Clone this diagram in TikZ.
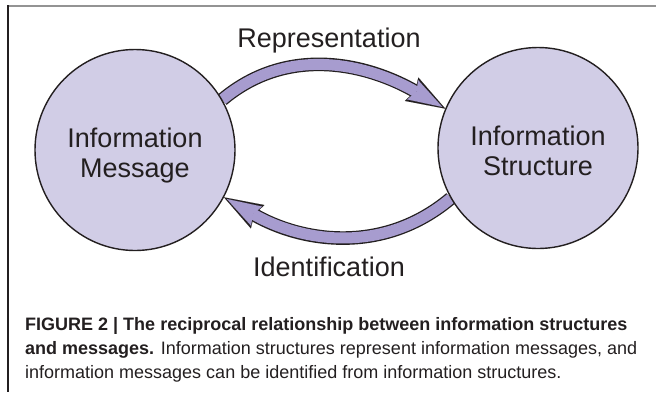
\documentclass[tikz,border=0pt]{standalone}
\usepackage{fontspec}
\setmainfont{Liberation Sans}
\usetikzlibrary{arrows.meta,shapes.geometric,backgrounds}
\definecolor{ellfill}{HTML}{D1CDE6}
\definecolor{bandfill}{HTML}{A79CCF}
\definecolor{inkcol}{HTML}{231F20}

\begin{document}
\begin{tikzpicture}
      [x=1pt,y=-1pt,
       info/.style={ellipse,draw=inkcol,line width=1.4pt,fill=ellfill,minimum width=200pt,minimum height=201pt,
         inner sep=0pt,align=center,text=inkcol,font=\fontsize{27}{30}\selectfont,text height=54pt,text depth=0pt},
       relation/.style={draw=bandfill,line width=11pt,shorten >=3.5pt,
         -{Stealth[length=34pt,width=22pt,inset=4pt,line width=0.01pt]},
         preaction={draw=inkcol,line width=13.6pt,shorten >=0pt,
           -{Stealth[length=38.8pt,width=27pt,inset=4pt,line width=0.01pt]}}},
       arclabel/.style={anchor=base,text=inkcol,font=\fontsize{27}{30}\selectfont}]
      \useasboundingbox (0,0) rectangle (656,392) ;
      \draw[gray!85,line width=2pt] (8,6) -- (656,6) ;
      \draw[inkcol,line width=1.5pt] (8,5) -- (8,392) ;
      \node[info] (msg) at (135,150) {Information\\Message} ;
      \node[info] (str) at (538,148) {Information\\Structure} ;
      \node[arclabel] (rep) at (329,47) {Representation} ;
      \node[arclabel] (ident) at (329,276) {Identification} ;
      \begin{scope}[on background layer]
        \draw[relation] (msg.30) to[out=40,in=150] (str.157) ;
        \draw[relation] (str.210) to[out=220,in=330] (msg.-28) ;
      \end{scope}
      \node[anchor=north west,inner sep=0pt,align=left,text=inkcol,
        font=\fontsize{18}{24}\selectfont] (caption) at (25,317)
        {\textbf{FIGURE 2 | The reciprocal relationship between information structures}\\
         \textbf{and messages.} Information structures represent information messages, and\\
         information messages can be identified from information structures.} ;
    \end{tikzpicture}
\end{document}
